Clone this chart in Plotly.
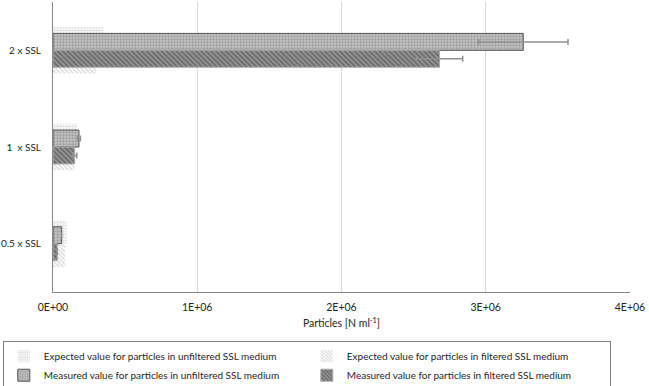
import plotly.graph_objects as go

categories = ["0.5 x SSL", "1\u00a0 x SSL", "2 x SSL"]
expected_unfiltered = [95000, 170000, 350000]
expected_filtered = [85000, 150000, 300000]
measured_unfiltered = [60000, 180000, 3260000]
measured_unfiltered_err = [0, 10000, 310000]
measured_filtered = [30000, 150000, 2680000]
measured_filtered_err = [0, 15000, 160000]
tick_vals = [0, 1e6, 2e6, 3e6, 4e6]
tick_text = ["0E+00", "1E+06", "2E+06", "3E+06", "4E+06"]
names = [
    "Expected value for particles in unfiltered SSL medium",
    "Expected value for particles in filtered SSL medium",
    "Measured value for particles in unfiltered SSL medium",
    "Measured value for particles in filtered SSL medium",
]

fig = go.Figure()
fig.add_trace(go.Bar(
    y=categories, x=expected_unfiltered, orientation="h", name=names[0],
    offset=0, width=0.24,
    marker=dict(color="white", line=dict(width=0),
                pattern=dict(shape=".", fgcolor="#c0c0c0", bgcolor="white", size=3, solidity=0.55)),
))
fig.add_trace(go.Bar(
    y=categories, x=expected_filtered, orientation="h", name=names[1],
    offset=-0.24, width=0.24,
    marker=dict(color="white", line=dict(width=0),
                pattern=dict(shape="\\", fgcolor="#b0b0b0", bgcolor="white", size=3, solidity=0.45)),
))
fig.add_trace(go.Bar(
    y=categories, x=measured_unfiltered, orientation="h", name=names[2],
    offset=0, width=0.175,
    marker=dict(color="#b0b0b0", line=dict(width=1, color="#555555"),
                pattern=dict(shape=".", fgcolor="#777777", bgcolor="#c4c4c4", size=3, solidity=0.45)),
    error_x=dict(type="data", array=measured_unfiltered_err, color="#909090", thickness=1.5, width=3),
))
fig.add_trace(go.Bar(
    y=categories, x=measured_filtered, orientation="h", name=names[3],
    offset=-0.175, width=0.175,
    marker=dict(color="#808080", line=dict(width=1, color="#aaaaaa"),
                pattern=dict(shape="\\", fgcolor="#303030", bgcolor="#9a9a9a", size=3.5, solidity=0.5)),
    error_x=dict(type="data", array=measured_filtered_err, color="#909090", thickness=1.5, width=3),
))

fig.update_layout(
    width=649, height=386,
    margin=dict(l=53, r=19, t=2, b=94, autoexpand=False),
    barmode="overlay",
    plot_bgcolor="white", paper_bgcolor="white",
    font=dict(family="Lato", size=10.5, color="#262626"),
    showlegend=True,
    legend=dict(
        orientation="h", x=-0.087, y=-0.168, xanchor="left", yanchor="top",
        entrywidth=258, entrywidthmode="pixels",
        bordercolor="#808080", borderwidth=1, tracegroupgap=0,
        font=dict(size=10, family="Lato", color="#262626"),
        itemwidth=30,
    ),
    xaxis=dict(
        range=[0, 4e6], tickvals=tick_vals, ticktext=tick_text, automargin=False,
        showgrid=True, gridcolor="#d9d9d9", gridwidth=1,
        showline=True, linecolor="#868686", linewidth=1,
        zeroline=False, ticks="", ticklabelstandoff=5,
        tickfont=dict(size=10.5),
        title=dict(text="Particles [N ml<sup>-1</sup>]", font=dict(size=10.5), standoff=8),
    ),
    yaxis=dict(
        type="category", categoryorder="array", categoryarray=categories, automargin=False,
        showline=True, linecolor="#868686", linewidth=1,
        showgrid=False, ticks="", ticklabelstandoff=9,
        tickfont=dict(size=10),
    ),
)

fig.write_html("out.html", config={"displayModeBar": False},
               post_script="document.body.style.margin='0';")
